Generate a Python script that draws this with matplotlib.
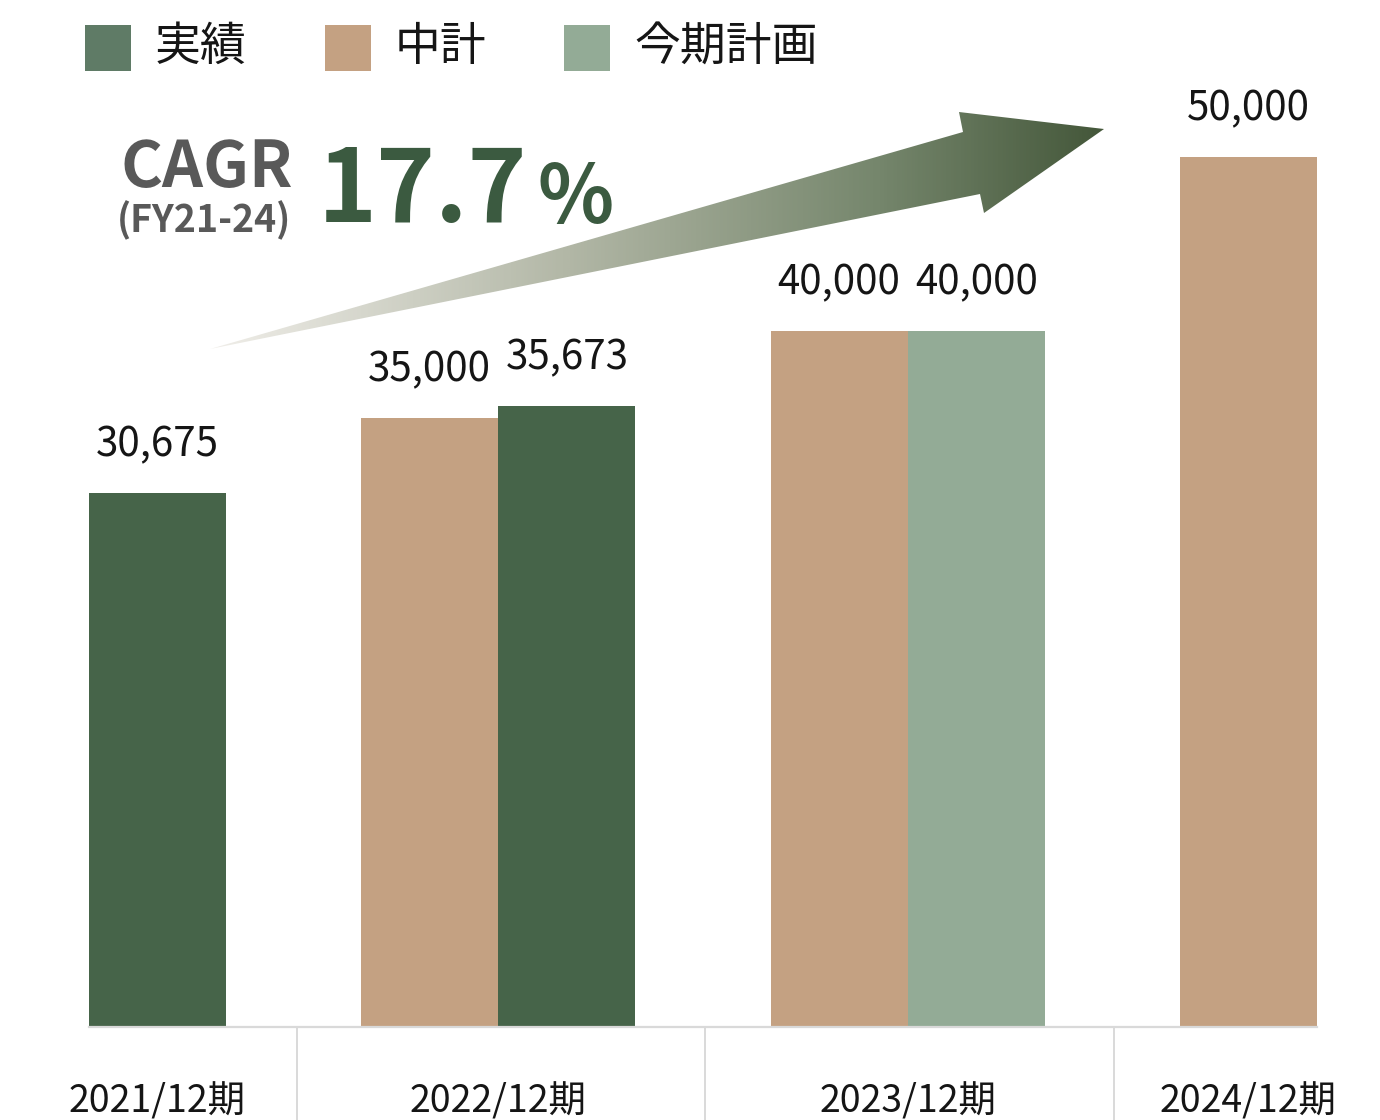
import numpy as np
import matplotlib
matplotlib.use("Agg")
import matplotlib.pyplot as plt
from matplotlib.patches import Polygon, Rectangle
from matplotlib.colors import LinearSegmentedColormap

plt.rcParams['font.family'] = ['Noto Sans CJK JP', 'DejaVu Sans']

# ---------------- data ----------------
categories = ['2021/12期', '2022/12期', '2023/12期', '2024/12期']
series_names = ['実績', '中計', '今期計画']
actual = [30675, 35673, np.nan, np.nan]      # 実績
midterm = [np.nan, 35000, 40000, 50000]      # 中計
plan = [np.nan, np.nan, 40000, np.nan]       # 今期計画
cagr_label = 'CAGR'
cagr_period = '(FY21-24)'
cagr_value = '17.7'

# ---------------- style ----------------
bar_colors = {'実績': '#466449', '中計': '#c4a182', '今期計画': '#93ab96'}
legend_colors = {'実績': '#5f7b66', '中計': '#c4a182', '今期計画': '#93ab96'}
W, H = 1380, 1120
fig = plt.figure(figsize=(W / 100, H / 100), dpi=100)
fig.patch.set_facecolor('white')

ax = fig.add_axes([89 / W, (H - 1027) / H, 1228 / W, 1027 / H])
ax.patch.set_visible(False)
ax.set_xlim(0, 3)
ax.set_ylim(0, 59000)
bar_w = 0.335
slot = bar_w / 2

series = [
    ('中計', midterm, -slot),
    ('実績', actual, +slot),
    ('今期計画', plan, +slot),
]

present = {i: [] for i in range(len(categories))}
for name, vals, off in series:
    for i, v in enumerate(vals):
        if np.isnan(v):
            continue
        x = i + off
        present[i].append(x)
        ax.bar(x, v, width=bar_w, color=bar_colors[name], linewidth=0, zorder=2)
        ax.annotate(f'{int(v):,}', (x, v), xytext=(0, 26.5), textcoords='offset points',
                    ha='center', va='baseline', fontsize=29, color='#151515')

for s in ['left', 'right', 'top']:
    ax.spines[s].set_visible(False)
ax.spines['bottom'].set_color('#d9d9d9')
ax.spines['bottom'].set_linewidth(1.6)
ax.set_xticks([])
ax.set_yticks([])
ax.vlines([0.507, 1.505, 2.504], -7000, 0, colors='#d9d9d9', linewidth=1.4, clip_on=False)

for i, cat in enumerate(categories):
    xc = np.mean(present[i])
    ax.text(xc, -0.0837, cat, transform=ax.get_xaxis_transform(), ha='center',
            va='baseline', fontsize=27, color='#151515')

# ---------------- overlay (legend, CAGR, arrow) ----------------
ov = fig.add_axes([0, 0, 1, 1], zorder=5)
ov.patch.set_visible(False)
ov.axis('off')

# gradient arrow
arrow_pts = [(210, 349), (963, 132), (959, 112), (1104, 129), (984, 213), (980, 194)]
cmap = LinearSegmentedColormap.from_list('arr', [(0, '#f0eee9'), (0.4, '#b2b7a6'),
                                                  (0.75, '#75866c'), (1, '#44573a')])
grad = np.linspace(0, 1, 600).reshape(1, -1)
im = ov.imshow(grad, cmap=cmap, extent=(210, 1104, 349, 112), aspect='auto',
               interpolation='bilinear')
poly = Polygon(arrow_pts, closed=True, facecolor='none', edgecolor='none')
ov.add_patch(poly)
im.set_clip_path(poly)
ov.set_xlim(0, W)
ov.set_ylim(H, 0)

# CAGR text
ov.text(121, 187, cagr_label, fontsize=46, fontweight='bold', color='#595959',
        ha='left', va='baseline')
ov.text(117, 232, cagr_period, fontsize=27, fontweight='bold', color='#595959',
        ha='left', va='baseline')
ov.text(318, 222, cagr_value, fontsize=72, fontweight='bold', color='#3b5a40',
        ha='left', va='baseline')
ov.text(538, 223, '%', fontsize=57, fontweight='bold', color='#3b5a40',
        ha='left', va='baseline')

# legend
em = 33 * 100 / 72
x = 85
for name in series_names:
    ov.add_patch(Rectangle((x, 25), 46, 46, facecolor=legend_colors[name], edgecolor='none'))
    ov.text(x + 70, 47, name, fontsize=33, color='#151515', ha='left', va='center')
    x += 70 + len(name) * em + 78

fig.savefig('out.png', dpi=100, facecolor='white')
